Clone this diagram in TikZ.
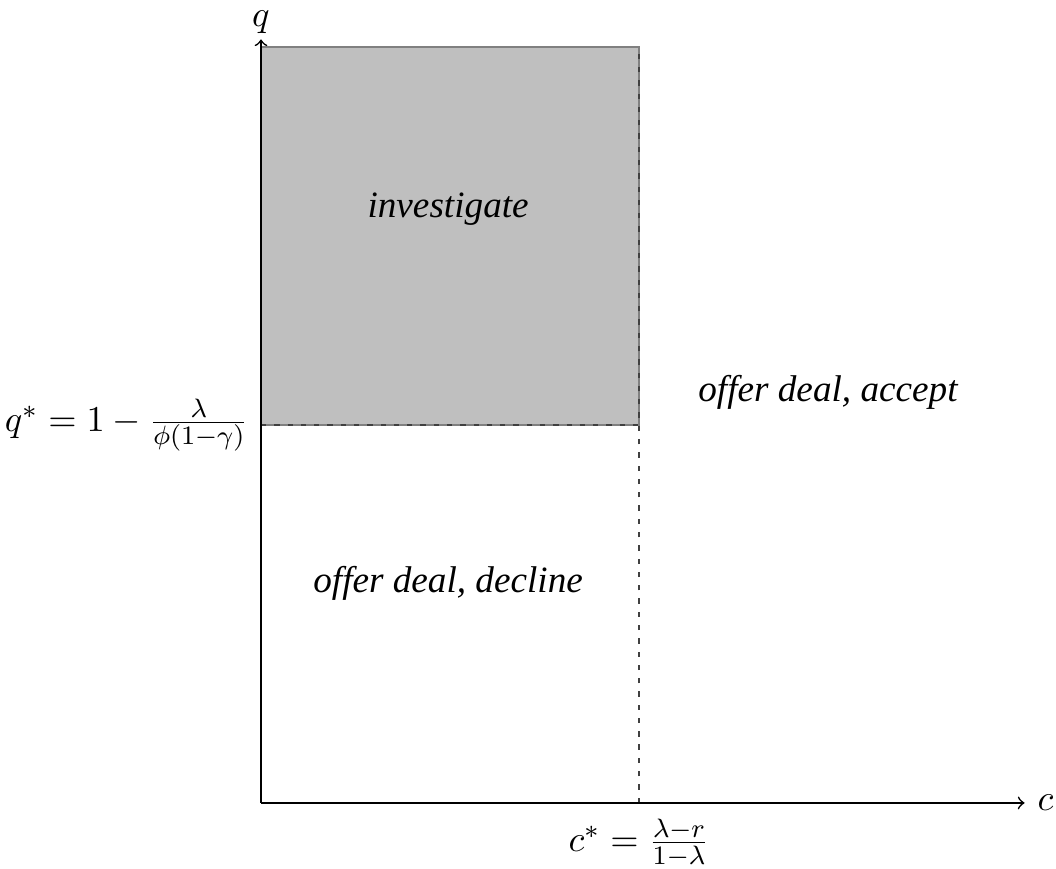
\documentclass[11pt,tikz,border=0pt]{standalone}
\usepackage{amsmath}
\usepackage[no-math]{fontspec}
\newfontfamily\regionfont{Liberation Serif}
\usepackage{tikz}
\usetikzlibrary{arrows,positioning,calc}

\begin{document}
\begin{tikzpicture}[>=to, scale=4]
        \tikzset{
            region/.style={font=\regionfont\itshape\fontsize{11.2}{14}\selectfont, align=center},
            axis/.style={->, line width=0.5pt},
            bound/.style={draw=black!75, dash pattern=on 1.6pt off 2.4pt, line width=0.4pt}
        }
        \useasboundingbox (-0.6905,-0.1746) rectangle (2.1032,2.1243);

        % Points
        \coordinate (O) at (0,0);
        \coordinate (xend) at (2.02,0);
        \coordinate (yend) at (0,2.02);
        \coordinate (cstar) at (1,0);
        \coordinate (qstar) at (0,1);
        \coordinate (corner) at (1,1);
        \coordinate (ctop) at (1,2);

        % Investigate region
        \draw [fill=lightgray, draw=gray] (qstar) rectangle (ctop);
        \draw [bound] (qstar) -- (corner);
        \draw [bound] (cstar) -- (ctop);

        % Axes
        \draw [axis] (O) -- (xend) node [right] (clabel) {$c$};
        \draw [axis] (O) -- (yend) node [above, inner sep=1.5pt] (qlabel) {$q$};
        \node [left=0pt of qstar] (qstarlabel) {$q^* = 1 - \frac{\lambda}{\phi(1-\gamma)}$};
        \node [below=1pt of cstar] (cstarlabel) {$c^* = \frac{\lambda - r}{1-\lambda}$};

        % Regions
        \node [region] (invest) at (0.495,1.57) {investigate};
        \node [region] (decline) at (0.495,0.582) {offer deal, decline};
        \node [region] (accept) at (1.5,1.085) {offer deal, accept};
    \end{tikzpicture}
\end{document}
